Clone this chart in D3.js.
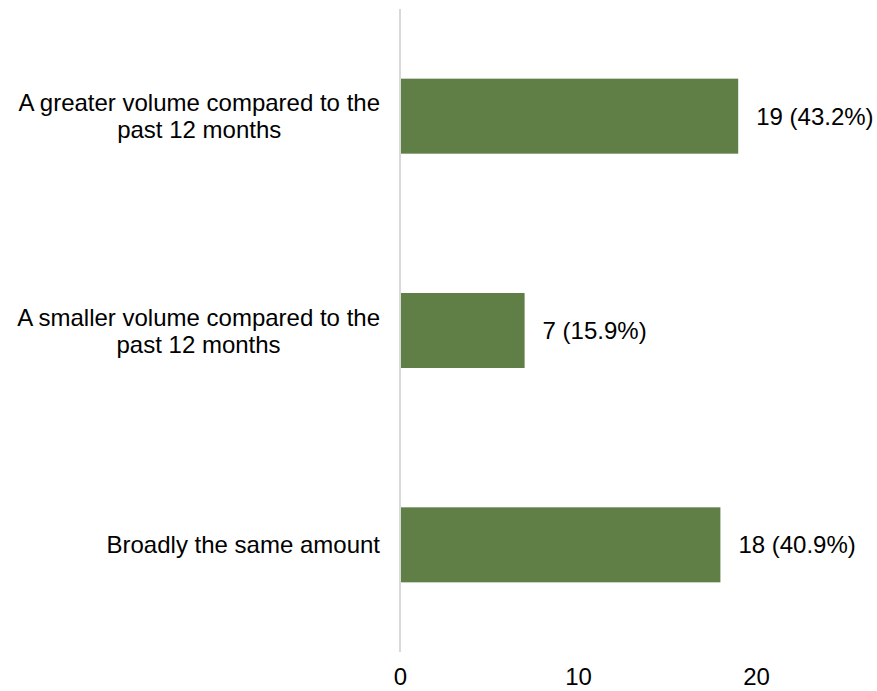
<!DOCTYPE html>
<html>
<head>
<meta charset="utf-8">
<script src="https://cdn.jsdelivr.net/npm/d3@7"></script>
<style>
  html, body { margin: 0; padding: 0; background: #ffffff; }
  svg { display: block; }
  text { font-family: "Liberation Sans", Arial, sans-serif; fill: #000000; }
</style>
</head>
<body>
<svg id="chart" width="877" height="691"></svg>
<script>
// Survey responses: volume compared to the past 12 months
const categories = [
  ["A greater volume compared to the", "past 12 months"],
  ["A smaller volume compared to the", "past 12 months"],
  ["Broadly the same amount"]
];
const counts = [19, 7, 18];
const shares = ["43.2%", "15.9%", "40.9%"];
const tickValues = [0, 10, 20];

const width = 877, height = 691;
const fontSize = 24, lineHeight = 27, capHeight = 0.716 * fontSize;
const barColor = "#607f47";

const svg = d3.select("#chart");

const x = d3.scaleLinear().domain([0, 25]).range([400, 845]);
const y = d3.scaleBand()
  .domain(d3.range(categories.length))
  .range([9, 652])
  .paddingInner(0.65)
  .paddingOuter(0.325);

// Bars
svg.append("g").selectAll("rect")
  .data(counts)
  .join("rect")
  .attr("x", x(0))
  .attr("y", (d, i) => y(i))
  .attr("width", d => x(d) - x(0))
  .attr("height", y.bandwidth())
  .attr("fill", barColor);

// Vertical axis line
svg.append("line")
  .attr("x1", x(0)).attr("x2", x(0))
  .attr("y1", 9).attr("y2", 652)
  .attr("stroke", "#d9d9d9")
  .attr("stroke-width", 2);

// Category labels: block right-aligned to the axis, lines centred within block
const labelRight = 380;
categories.forEach((lines, i) => {
  const cy = y(i) + y.bandwidth() / 2;
  const firstBaseline = cy - (lines.length - 1) * lineHeight / 2 + capHeight / 2;
  const g = svg.append("g");
  const texts = lines.map((ln, k) => g.append("text")
    .attr("y", firstBaseline + k * lineHeight)
    .attr("font-size", fontSize)
    .attr("text-anchor", "middle")
    .text(ln));
  const maxW = d3.max(texts, t => t.node().getComputedTextLength());
  texts.forEach(t => t.attr("x", labelRight - maxW / 2));
});

// Value labels
svg.append("g").selectAll("text")
  .data(counts)
  .join("text")
  .attr("x", d => x(d) + 18)
  .attr("y", (d, i) => y(i) + y.bandwidth() / 2 + capHeight / 2)
  .attr("font-size", fontSize)
  .text((d, i) => `${d} (${shares[i]})`);

// Horizontal axis tick labels
const xAxis = d3.axisBottom(x).tickValues(tickValues).tickSize(0).tickPadding(0);
const gx = svg.append("g")
  .attr("transform", "translate(0,667)")
  .call(xAxis);
gx.select(".domain").remove();
gx.selectAll("text")
  .attr("font-size", fontSize)
  .attr("font-family", "'Liberation Sans', Arial, sans-serif")
  .attr("fill", "#000000")
  .attr("dy", null)
  .attr("y", capHeight + 1);
</script>
</body>
</html>
